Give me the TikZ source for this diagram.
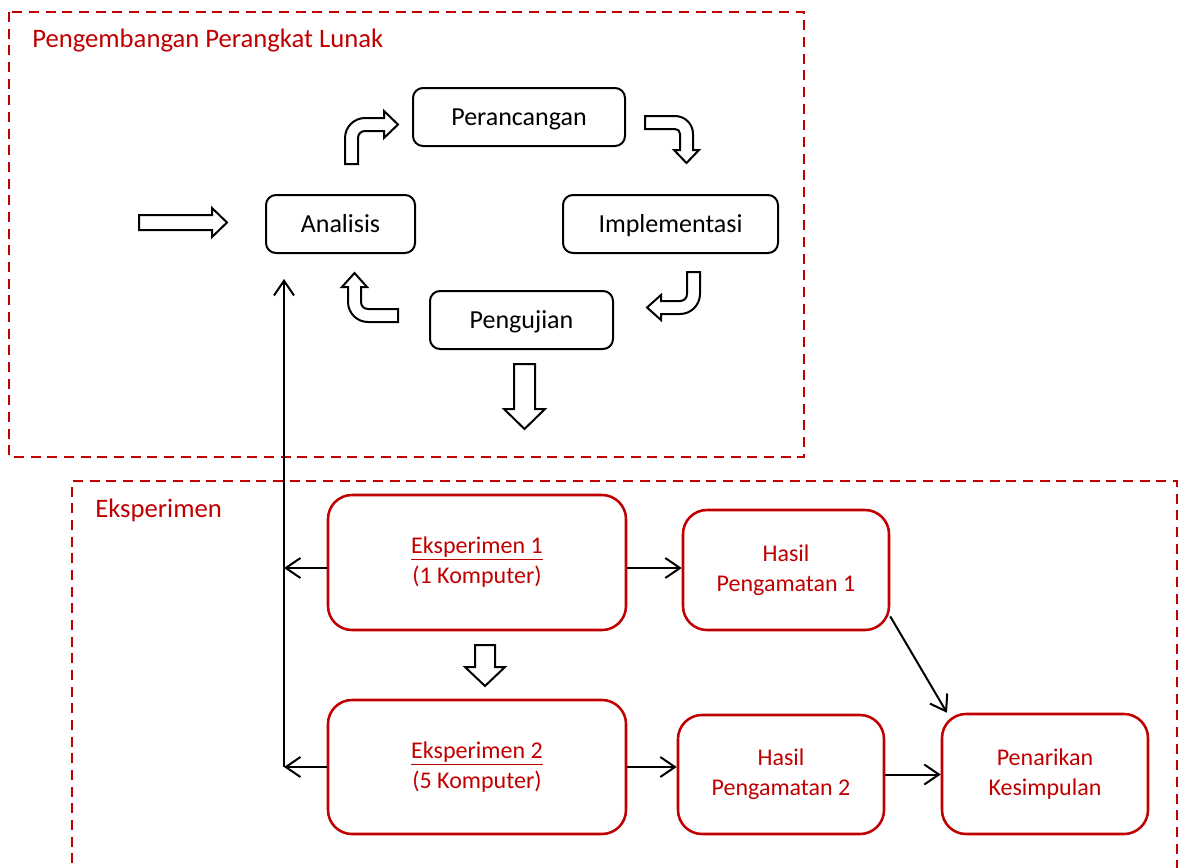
\documentclass[tikz,border=0pt]{standalone}
\usepackage{fontspec}
\setmainfont{Carlito}
\usetikzlibrary{arrows.meta}
\definecolor{merah}{HTML}{C00000}
\begin{document}
\begin{tikzpicture}[x=0.75pt,y=-0.75pt,
		kotak/.style={draw,line width=1.5pt,rounded corners=7.5pt,inner sep=0pt,minimum height=43.5pt,text height=12.6pt,text depth=0pt,font=\fontsize{19.5}{23}\selectfont},
		kotakmerah/.style={draw=merah,text=merah,line width=1.9pt,rounded corners=18pt,inner sep=0pt,align=center,minimum width=154.5pt,minimum height=90pt,font=\fontsize{18}{22.5}\selectfont},
		judul/.style={anchor=base west,text=merah,inner sep=0pt,font=\fontsize{20}{24}\selectfont},
		panah/.style={-{Straight Barb[length=11pt,width=15pt]},line width=1.5pt},
		blok/.style={draw,line width=1.5pt,fill=white,line join=miter},
		batas/.style={draw=merah,line width=1.9pt,dash pattern=on 7.5pt off 5pt}]
	\useasboundingbox (0,0) rectangle (1186,868);
	\clip (0,0) rectangle (1186,868);
	% area
	\draw[batas] (9,12) rectangle (804,457);
	\draw[batas] (72,880) -- (72,481) -- (1177,481) -- (1177,880);
	\node[judul] (lblpl) at (32,47) {Pengembangan Perangkat Lunak};
	\node[judul] (lblex) at (95,517) {Eksperimen};
	% siklus
	\node[kotak,minimum width=159pt] (per) at (519,117) {Perancangan};
	\node[kotak,minimum width=111.75pt] (ana) at (340.5,224) {Analisis};
	\node[kotak,minimum width=161.25pt] (imp) at (670.5,224) {Implementasi};
	\node[kotak,minimum width=137.25pt] (uji) at (521.5,320) {Pengujian};
	\draw[blok] (139,215) -- (212,215) -- (212,208) -- (227,222.5) -- (212,237) -- (212,230) -- (139,230) -- cycle;
	\draw[blok] (345,164) -- (345,138) .. controls (345,127) and (354,118) .. (365,118) -- (384,118) -- (384,111) -- (398,124.5) -- (384,138) -- (384,131) -- (365,131) .. controls (361,131) and (358,134) .. (358,138) -- (358,164) -- cycle;
	\draw[blok] (645,116) -- (675,116) .. controls (685,116) and (693,124) .. (693,134) -- (693,150) -- (699,150) -- (686.5,163) -- (674,150) -- (680,150) -- (680,134) .. controls (680,131) and (678,129) .. (675,129) -- (645,129) -- cycle;
	\draw[blok] (687,272) -- (700,272) -- (700,294) .. controls (700,305) and (691,314) .. (680,314) -- (661,314) -- (661,320) -- (647,307.5) -- (661,295) -- (661,301) -- (680,301) .. controls (684,301) and (687,298) .. (687,294) -- cycle;
	\draw[blok] (398,309) -- (398,322) -- (368,322) .. controls (357,322) and (348,313) .. (348,302) -- (348,287) -- (342,287) -- (354.5,273) -- (367,287) -- (361,287) -- (361,302) .. controls (361,306) and (364,309) .. (368,309) -- cycle;
	\draw[blok] (514,364) -- (535,364) -- (535,409) -- (545,409) -- (524.5,429) -- (504,409) -- (514,409) -- cycle;
	% eksperimen
	\node[kotakmerah,minimum width=223.5pt,minimum height=101.25pt] (eks1) at (477,562.5) {\underline{Eksperimen 1}\\(1 Komputer)};
	\node[kotakmerah,minimum width=223.5pt,minimum height=100.5pt] (eks2) at (477,767) {\underline{Eksperimen 2}\\(5 Komputer)};
	\node[kotakmerah] (has1) at (786,570) {Hasil\\Pengamatan 1};
	\node[kotakmerah,minimum height=89.25pt] (has2) at (781,774.5) {Hasil\\Pengamatan 2};
	\node[kotakmerah] (tarik) at (1045,774) {Penarikan\\Kesimpulan};
	\draw[blok] (475,645) -- (495,645) -- (495,667) -- (505,667) -- (485,686) -- (465,667) -- (475,667) -- cycle;
	\coordinate (j1) at (284,568);
	\coordinate (j2) at (284,767);
	\coordinate (jt) at (284,279);
	\draw[panah] (j2) -- (jt);
	\draw[panah] (eks1.west |- j1) -- (j1);
	\draw[panah] (eks2.west) -- (j2);
	\draw[panah] (eks1.east |- j1) -- (has1.west |- j1);
	\draw[panah] (eks2.east) -- (has2.west |- eks2.east);
	\draw[panah] (has1.-24) -- (tarik.148);
	\draw[panah] (has2.east) -- (tarik.west |- has2.east);
\end{tikzpicture}
\end{document}
